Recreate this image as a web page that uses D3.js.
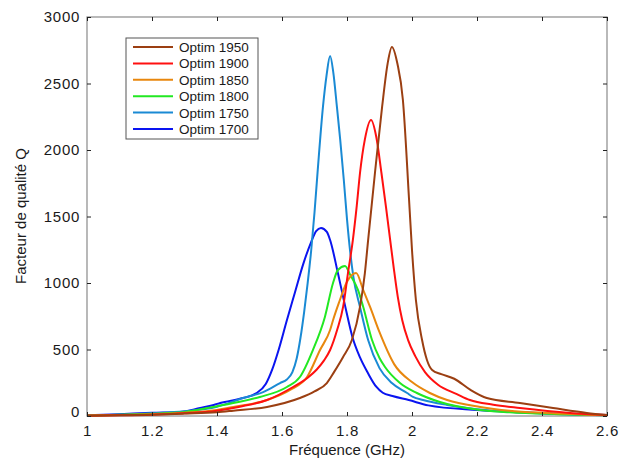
<!DOCTYPE html>
<html><head><meta charset="utf-8">
<script src="https://cdn.jsdelivr.net/npm/d3@7"></script>
<style>body{margin:0;background:#fff}svg{display:block}text{font-family:"Liberation Sans",Arial,sans-serif;fill:#1a1a1a}</style>
</head><body><svg id="c" width="620" height="459"></svg>
<script>
const xTicks = [1, 1.2, 1.4, 1.6, 1.8, 2, 2.2, 2.4, 2.6];
const yTicks = [0, 500, 1000, 1500, 2000, 2500, 3000];
const seriesNames = ["Optim 1950","Optim 1900","Optim 1850","Optim 1800","Optim 1750","Optim 1700"];
const seriesColors = ["#9b3f12","#ff1010","#e8870e","#22e822","#1a8ad4","#0a14f0"];

const f1950 = [1.0,1.1,1.2,1.3,1.4,1.45,1.554,1.655,1.70,1.738,1.76,1.788,1.815,1.84,1.855,1.865,1.886,1.908,1.925,1.938,1.955,1.972,1.991,2.0,2.012,2.031,2.046,2.062,2.09,2.13,2.18,2.23,2.332,2.434,2.538,2.6];
const q1950 = [2,5,10,18,28,40,68,135,185,248,330,444,571,820,1075,1323,1827,2324,2650,2775,2650,2376,1624,1248,872,571,421,346,315,280,196,135,98,60,23,8];

const f1900 = [1.0,1.1,1.2,1.3,1.4,1.47,1.554,1.634,1.68,1.707,1.73,1.748,1.77,1.788,1.803,1.818,1.83,1.84,1.855,1.874,1.89,1.906,1.92,1.932,1.944,1.956,1.97,1.988,2.01,2.04,2.08,2.138,2.178,2.25,2.332,2.486,2.6];
const q1900 = [2,5,10,20,40,70,120,218,290,350,420,496,650,820,1075,1323,1580,1827,2080,2226,2100,1827,1570,1340,1110,900,720,571,450,330,235,165,120,85,60,23,8];

const f1850 = [1.0,1.1,1.2,1.3,1.4,1.45,1.554,1.625,1.677,1.717,1.748,1.757,1.775,1.80,1.815,1.828,1.85,1.871,1.9,1.945,2.0,2.055,2.108,2.21,2.3,2.415,2.6];
const q1850 = [3,7,14,25,45,68,120,196,293,496,647,720,850,1010,1060,1075,947,820,630,390,255,173,120,68,40,23,6];

const f1800 = [1.0,1.1,1.2,1.3,1.37,1.45,1.532,1.615,1.655,1.695,1.732,1.757,1.772,1.794,1.81,1.834,1.85,1.877,1.9,1.917,1.963,2.015,2.086,2.21,2.3,2.45,2.6];
const q1800 = [4,9,17,30,60,98,143,218,293,496,745,1000,1098,1128,1060,947,820,571,436,368,248,173,105,45,28,14,5];

const f1750 = [1.0,1.1,1.2,1.3,1.4,1.48,1.542,1.594,1.615,1.632,1.645,1.657,1.668,1.678,1.69,1.70,1.71,1.726,1.737,1.748,1.758,1.769,1.779,1.79,1.80,1.81,1.82,1.84,1.865,1.9,1.938,1.985,2.003,2.034,2.108,2.2,2.31,2.45,2.6];
const q1750 = [4,10,20,35,70,135,180,248,275,330,430,590,780,980,1250,1530,1850,2324,2560,2707,2580,2324,2080,1780,1480,1230,1040,820,571,360,248,173,143,120,83,50,30,15,6];

const f1700 = [1.0,1.1,1.2,1.286,1.348,1.39,1.41,1.48,1.52,1.55,1.57,1.59,1.615,1.64,1.665,1.69,1.705,1.72,1.738,1.748,1.772,1.794,1.816,1.84,1.865,1.89,1.91,1.94,1.99,2.05,2.2,2.385,2.6];
const q1700 = [5,14,24,30,60,83,98,135,170,240,350,500,720,930,1140,1310,1390,1414,1384,1323,1075,830,600,440,320,220,175,150,120,80,45,23,8];

const seriesF = [f1950,f1900,f1850,f1800,f1750,f1700];
const seriesQ = [q1950,q1900,q1850,q1800,q1750,q1700];

const svg = d3.select("#c");
const L=87,R=607,T=17,B=416;
const x = d3.scaleLinear().domain([1,2.6]).range([L,R]);
const y = d3.scaleLinear().domain([0,3000]).range([B,T]);

svg.append("rect").attr("x",L).attr("y",T).attr("width",R-L).attr("height",B-T)
  .attr("fill","none").attr("stroke","#8a8a8a").attr("stroke-width",1.2);

const line = d3.line().x(d=>x(d[0])).y(d=>y(d[1])).curve(d3.curveMonotoneX);
const drawOrder = [5,4,3,2,1,0];
drawOrder.forEach(i=>{
  const pts = seriesF[i].map((f,j)=>[f,seriesQ[i][j]]);
  svg.append("path").datum(pts).attr("d",line).attr("fill","none")
    .attr("stroke",seriesColors[i]).attr("stroke-width",2).attr("stroke-linejoin","round");
});

const fmtX = d=> String(+d.toFixed(1));
const gBottom = svg.append("g").attr("transform",`translate(0,${B})`)
  .call(d3.axisBottom(x).tickValues(xTicks).tickSize(-4).tickPadding(9).tickFormat(fmtX));
const gTop = svg.append("g").attr("transform",`translate(0,${T})`)
  .call(d3.axisTop(x).tickValues(xTicks).tickSize(-4).tickFormat(""));
const gLeft = svg.append("g").attr("transform",`translate(${L},0)`)
  .call(d3.axisLeft(y).tickValues(yTicks).tickSize(-4).tickPadding(7).tickFormat(d3.format("d")));
const gRight = svg.append("g").attr("transform",`translate(${R},0)`)
  .call(d3.axisRight(y).tickValues(yTicks).tickSize(-4).tickFormat(""));
[gBottom,gTop,gLeft,gRight].forEach(g=>{
  g.select(".domain").remove();
  g.selectAll(".tick line").attr("stroke","#222").attr("stroke-width",1);
  g.selectAll("text").style("font-size","15px").style("letter-spacing","0.7px")
    .style("font-family","Liberation Sans, Arial, sans-serif").attr("fill","#1a1a1a");
});
gLeft.selectAll(".tick text").filter(d=>d===0).attr("dy","0.05em");

svg.append("text").attr("x",(L+R)/2).attr("y",455).attr("text-anchor","middle")
  .style("font-size","15px").text("Fréquence (GHz)");
svg.append("text").attr("transform","translate(26,216) rotate(-90)").attr("text-anchor","middle")
  .style("font-size","15px").text("Facteur de qualité Q");

const lg = svg.append("g");
lg.append("rect").attr("x",126).attr("y",38).attr("width",132).attr("height",101)
  .attr("fill","#fff").attr("stroke","#555").attr("stroke-width",1);
seriesNames.forEach((n,i)=>{
  const yy = 47 + i*16.4;
  lg.append("line").attr("x1",133).attr("x2",173).attr("y1",yy).attr("y2",yy)
    .attr("stroke",seriesColors[i]).attr("stroke-width",2);
  lg.append("text").attr("x",179).attr("y",yy+5).style("font-size","13.5px").text(n);
});
</script></body></html>
